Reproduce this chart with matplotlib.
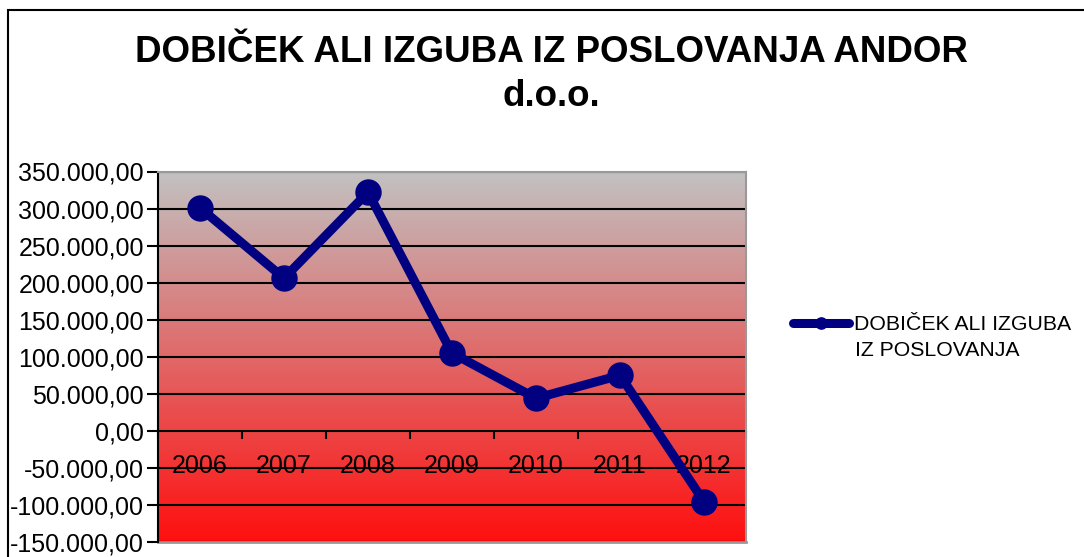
import numpy as np
import matplotlib
matplotlib.use("Agg")
import matplotlib.pyplot as plt
from matplotlib.patches import Rectangle
from matplotlib.ticker import FuncFormatter

plt.rcParams['font.family'] = ['Liberation Sans', 'DejaVu Sans']

years = ['2006', '2007', '2008', '2009', '2010', '2011', '2012']
values = [301000, 206000, 322000, 105000, 44000, 75000, -95500]
series_label = ['DOBIČEK ALI IZGUBA', 'IZ POSLOVANJA']

W, H = 1084, 557
fig = plt.figure(figsize=(W / 100, H / 100), dpi=100)

# outer chart border
fig.patches.append(Rectangle((8 / W, -0.1), 1.2, (H - 10) / H + 0.1, transform=fig.transFigure,
                             fill=False, edgecolor='black', linewidth=1.5))

left, right, top, bottom = 158, 746, 171.5, 542
ax = fig.add_axes([left / W, 1 - bottom / H, (right - left) / W, (bottom - top) / H])

ymin, ymax = -150000, 350000
x = np.arange(len(years))
ax.set_xlim(-0.5, len(years) - 0.5)

# gradient background (gray top -> red bottom)
grad = np.linspace(0, 1, 256)[:, None]
top_c = np.array([0.76, 0.76, 0.76])
bot_c = np.array([1.0, 0.06, 0.06])
img = top_c[None, None, :] * (1 - grad[:, :, None]) + bot_c[None, None, :] * grad[:, :, None]
ax.imshow(img, extent=[-0.5, len(years) - 0.5, ymin, ymax], origin='upper', aspect='auto', zorder=0)
ax.set_ylim(ymin, ymax)

yticks = np.arange(ymin, ymax + 1, 50000)
ax.set_yticks(yticks)
for yt in yticks:
    if yt != 0:
        ax.axhline(yt, color='black', linewidth=1.5, zorder=1)

def fmt(v, pos):
    s = f"{abs(int(v)):,}".replace(',', '.') + ',00'
    return ('-' if v < 0 else '') + s
ax.yaxis.set_major_formatter(FuncFormatter(fmt))
ax.tick_params(axis='y', length=8, width=1.5, labelsize=18, pad=2, colors='black', direction='out')

for s in ['top', 'right']:
    ax.spines[s].set_color('#999999')
    ax.spines[s].set_linewidth(1.5)
ax.spines['left'].set_linewidth(1.5)
ax.spines['left'].set_color('black')
ax.spines['bottom'].set_position(('data', 0))
ax.spines['bottom'].set_linewidth(1.5)
ax.spines['bottom'].set_zorder(2)
ax.plot([0, 1], [0, 0], transform=ax.transAxes, color='#999999', linewidth=2, clip_on=False)

ax.set_xticks(np.arange(len(years) + 1) - 0.5, minor=True)
ax.set_xticks(x)
ax.set_xticklabels(years)
ax.tick_params(axis='x', which='major', length=0, labelsize=18, pad=17)
ax.tick_params(axis='x', which='minor', length=6, width=1.5, direction='out')

ax.plot(x, values, color='#000080', linewidth=6.5, marker='o', markersize=18, zorder=3,
        label=series_label[0], solid_capstyle='round')

fig.text(551 / W, 1 - 52 / H, 'DOBIČEK ALI IZGUBA IZ POSLOVANJA ANDOR', ha='center', va='center',
         fontsize=26.5, fontweight='bold')
fig.text(551 / W, 1 - 97 / H, 'd.o.o.', ha='center', va='center', fontsize=26.5, fontweight='bold')

leg = fig.legend(loc='center left', bbox_to_anchor=(784 / W, 1 - 325 / H), frameon=False,
                 fontsize=15.3, handlelength=2.65, handletextpad=0.25, markerscale=0.45,
                 borderpad=0.4, borderaxespad=0)
fig.text(855 / W, 1 - 351 / H, series_label[1], ha='left', va='center', fontsize=15.3)

fig.savefig('out.png', dpi=100)
